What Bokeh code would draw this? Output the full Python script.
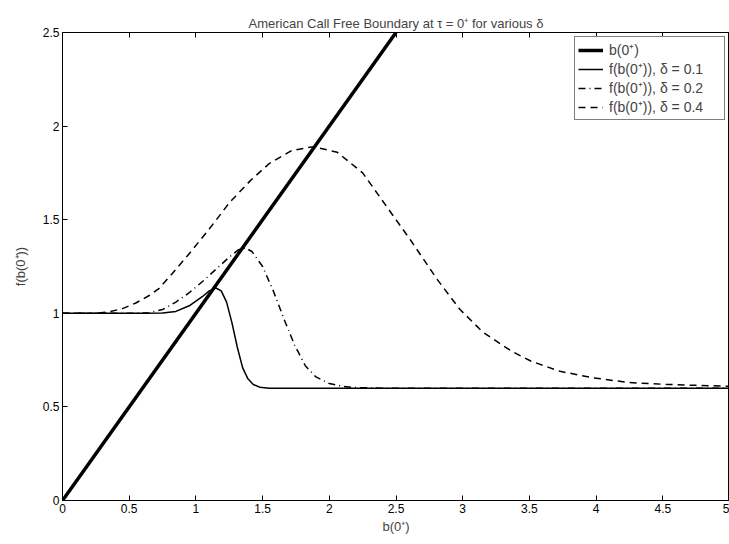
from bokeh.plotting import figure
from bokeh.models import Range1d, FixedTicker, LinearAxis, Legend, LegendItem
from bokeh.embed import file_html
from bokeh.resources import INLINE

# ---- data ----
b_x = [0.0, 2.5]
b_y = [0.0, 2.5]

d1_x = [0, 0.6, 0.75, 0.85, 0.95, 1.05, 1.1, 1.15, 1.19, 1.23, 1.27, 1.31, 1.35, 1.39, 1.43, 1.48, 1.55, 2, 3, 4, 5]
d1_y = [1, 1, 1.002, 1.01, 1.04, 1.09, 1.12, 1.135, 1.12, 1.06, 0.95, 0.82, 0.71, 0.65, 0.62, 0.605, 0.6, 0.6, 0.6, 0.6, 0.6]

d2_x = [0, 0.5, 0.65, 0.75, 0.85, 0.95, 1.05, 1.15, 1.25, 1.32, 1.37, 1.42, 1.5, 1.58, 1.66, 1.74, 1.82, 1.9, 2.0, 2.1, 2.2, 2.4, 3, 5]
d2_y = [1, 1, 1.003, 1.02, 1.06, 1.11, 1.17, 1.235, 1.30, 1.34, 1.35, 1.33, 1.25, 1.12, 0.97, 0.83, 0.72, 0.66, 0.625, 0.61, 0.603, 0.6, 0.6, 0.6]

d4_x = [0, 0.25, 0.35, 0.45, 0.55, 0.65, 0.72, 0.82, 0.94, 1.1, 1.25, 1.41, 1.55, 1.72, 1.88, 2.06, 2.25, 2.40, 2.61, 2.81, 2.98, 3.15, 3.36, 3.51, 3.73, 3.98, 4.25, 4.53, 4.75, 5.0]
d4_y = [1, 1, 1.008, 1.025, 1.055, 1.095, 1.13, 1.21, 1.31, 1.45, 1.59, 1.71, 1.80, 1.87, 1.89, 1.86, 1.75, 1.60, 1.39, 1.18, 1.02, 0.90, 0.80, 0.745, 0.69, 0.655, 0.63, 0.62, 0.615, 0.61]

x_ticks = [0, 0.5, 1, 1.5, 2, 2.5, 3, 3.5, 4, 4.5, 5]
x_tick_labels = ["0", "0.5", "1", "1.5", "2", "2.5", "3", "3.5", "4", "4.5", "5"]
y_ticks = [0, 0.5, 1, 1.5, 2, 2.5]
y_tick_labels = ["0", "0.5", "1", "1.5", "2", "2.5"]

FONT = "Liberation Sans"

p = figure(width=729, height=544, output_backend="svg", toolbar_location=None,
           x_range=Range1d(0, 5), y_range=Range1d(0, 2.5),
           min_border_left=62, min_border_right=0, min_border_top=32, min_border_bottom=44,
           title="American Call Free Boundary at \u03c4 = 0\u207a for various \u03b4")
p.title.align = "center"
p.title.text_font = FONT
p.title.text_font_style = "normal"
p.title.text_font_size = "13px"
p.title.offset = 0
p.title.standoff = 3

p.xgrid.visible = False
p.ygrid.visible = False
p.outline_line_color = "black"
p.outline_line_width = 1
p.background_fill_color = "white"
p.border_fill_color = "white"

for ax, ticks, labels in ((p.xaxis[0], x_ticks, x_tick_labels), (p.yaxis[0], y_ticks, y_tick_labels)):
    ax.ticker = FixedTicker(ticks=ticks)
    ax.major_label_overrides = {t: l for t, l in zip(ticks, labels)}
    ax.minor_tick_line_color = None
    ax.major_tick_in = 5
    ax.major_tick_out = 0
    ax.axis_line_color = "black"
    ax.major_label_text_font = FONT
    ax.major_label_text_font_size = "12px"
    ax.major_label_text_color = "black"
    ax.axis_label_text_font = FONT
    ax.axis_label_text_font_size = "13px"
    ax.axis_label_text_font_style = "normal"
    ax.major_label_standoff = 3

p.xaxis[0].axis_label = "b(0\u207a)"
p.yaxis[0].axis_label = "f(b(0\u207a))"
p.xaxis[0].axis_label_standoff = 3
p.yaxis[0].axis_label_standoff = 12

top = LinearAxis(ticker=FixedTicker(ticks=x_ticks), major_tick_in=5, major_tick_out=0,
                 minor_tick_line_color=None, major_label_text_color=None,
                 major_label_overrides={t: "" for t in x_ticks},
                 major_label_standoff=0, axis_line_color="black")
p.add_layout(top, "above")

rb = p.line(b_x, b_y, line_color="black", line_width=3.5)
r1 = p.line(d1_x, d1_y, line_color="black", line_width=1.5)
r2 = p.line(d2_x, d2_y, line_color="black", line_width=1.5, line_dash="7 4 1 4")
r4 = p.line(d4_x, d4_y, line_color="black", line_width=1.5, line_dash="7 5")

legend = Legend(items=[
    LegendItem(label="b(0\u207a)", renderers=[rb]),
    LegendItem(label="f(b(0\u207a)), \u03b4 = 0.1", renderers=[r1]),
    LegendItem(label="f(b(0\u207a)), \u03b4 = 0.2", renderers=[r2]),
    LegendItem(label="f(b(0\u207a)), \u03b4 = 0.4", renderers=[r4]),
], location="top_right")
legend.label_text_font = FONT
legend.label_text_font_size = "14px"
legend.label_text_line_height = 1.0
legend.border_line_color = "black"
legend.border_line_width = 1
legend.background_fill_alpha = 1
legend.glyph_width = 25
legend.glyph_height = 12
legend.label_height = 12
legend.label_width = 112
legend.spacing = 0
legend.padding = 3
legend.margin = 4
legend.label_standoff = 6
p.add_layout(legend, "center")

open("out.html", "w").write(file_html(p, INLINE))
